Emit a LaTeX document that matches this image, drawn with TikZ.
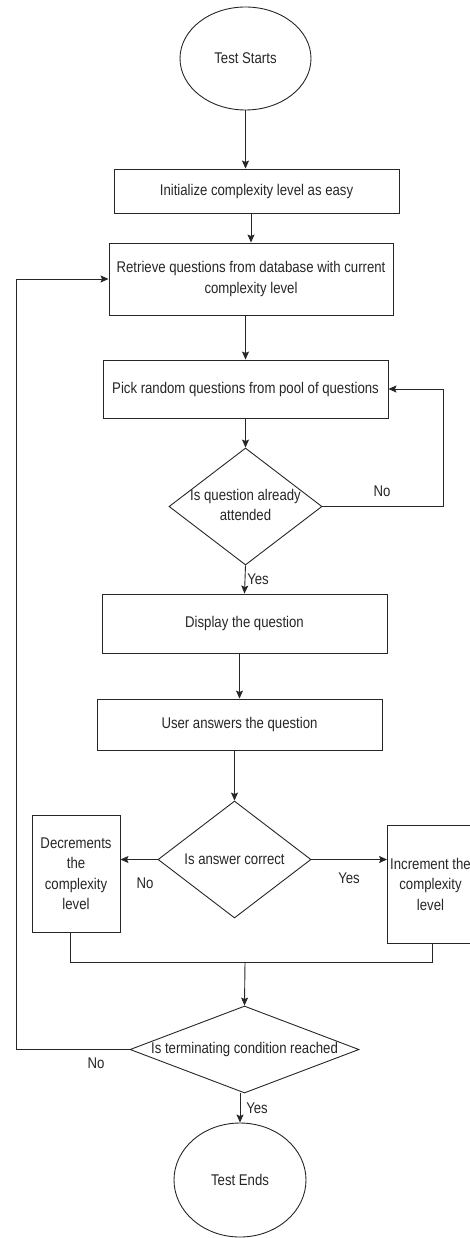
\documentclass[tikz,border=0pt]{standalone}
\usepackage{fontspec}
\setmainfont{Liberation Sans}[FakeStretch=0.85]
\usetikzlibrary{shapes.geometric,arrows.meta}
\begin{document}
\begin{tikzpicture}[x=1pt,y=-1pt,
  font=\fontsize{15.5}{20.5}\selectfont,
  line width=0.9pt,
  every node/.style={text=black!85},
  box/.style={draw=black!85, rectangle, inner sep=0pt, align=center},
  oval/.style={draw=black!85, ellipse, inner sep=0pt, align=center},
  decision/.style={draw=black!85, diamond, inner sep=0pt},
  arr/.style={draw=black!85, -{Stealth[length=8pt,width=7pt,inset=1.5pt]}},
  ln/.style={draw=black!85},
  lbl/.style={inner sep=0pt}
]
\useasboundingbox (0,0) rectangle (470,1238);
\clip (0,0) rectangle (470,1238);

\node[oval, minimum width=131pt, minimum height=103pt] (start) at (245.5,58.5) {Test Starts};
\node[box, minimum width=285pt, minimum height=44pt] (init) at (256.5,191) {Initialize complexity level as easy};
\node[box, minimum width=284pt, minimum height=72pt] (retr) at (251,279) {Retrieve questions from database with current\\complexity level};
\node[box, minimum width=285pt, minimum height=58pt] (pick) at (245.5,389) {Pick random questions from pool of questions};
\node[decision, minimum width=153pt, minimum height=117pt, label={center:\begin{tabular}{@{}c@{}}Is question already\\[-1pt]attended\end{tabular}}] (d1) at (245.5,506.5) {};
\node[box, minimum width=285pt, minimum height=59pt] (disp) at (244.5,623.5) {Display the question};
\node[box, minimum width=285pt, minimum height=51pt] (user) at (239.5,724.5) {User answers the question};
\node[decision, minimum width=153pt, minimum height=117pt, label={center:Is answer correct}] (d2) at (234.5,859.5) {};
\node[box, minimum width=88pt, minimum height=117pt] (dec) at (76,873.5) {Decrements\\the\\complexity\\level};
\node[box, minimum width=86pt, minimum height=118pt] (inc) at (430.5,884) {Increment the\\complexity\\level};
\node[decision, minimum width=229pt, minimum height=87pt, label={center:Is terminating condition reached}] (d3) at (244.5,1049.5) {};
\node[oval, minimum width=132pt, minimum height=114pt] (end) at (240,1180) {Test Ends};

\coordinate (m) at (245,962);
\coordinate (loopR) at (443,0);
\coordinate (loopL) at (16,0);

\draw[arr] (start.south) -- (start.south |- init.north);
\draw[arr] (init.south -| retr.north) -- (retr.north);
\draw[arr] (retr.south -| pick.north) -- (pick.north);
\draw[arr] (pick.south) -- (d1.north);
\draw[arr] (d1.south) -- (disp.north);
\draw[arr] (disp.south -| user.north) -- (user.north);
\draw[arr] (user.south -| d2.north) -- (d2.north);
\draw[arr] (d2.west) -- (dec.east |- d2.west);
\draw[arr] (d2.east) -- (inc.west |- d2.east);
\draw[arr] (d1.east) -- (loopR |- d1.east) -- (loopR |- pick.east) -- (pick.east);
\draw[ln] ([xshift=-6pt]dec.south) -- ([xshift=-6pt]dec.south |- m) -- ([xshift=1.5pt]inc.south |- m) -- ([xshift=1.5pt]inc.south);
\draw[arr] (m) -- (d3.north);
\draw[arr] (d3.south -| end.north) -- (end.north);
\draw[arr] (d3.west) -- (loopL |- d3.west) -- (loopL |- retr.west) -- (retr.west);

\node[lbl] (no1) at (382,491) {No};
\node[lbl] (yes1) at (258,579) {Yes};
\node[lbl] (no2) at (145,883) {No};
\node[lbl] (yes2) at (349,878) {Yes};
\node[lbl] (no3) at (96,1063) {No};
\node[lbl] (yes3) at (257,1108) {Yes};
\end{tikzpicture}
\end{document}
